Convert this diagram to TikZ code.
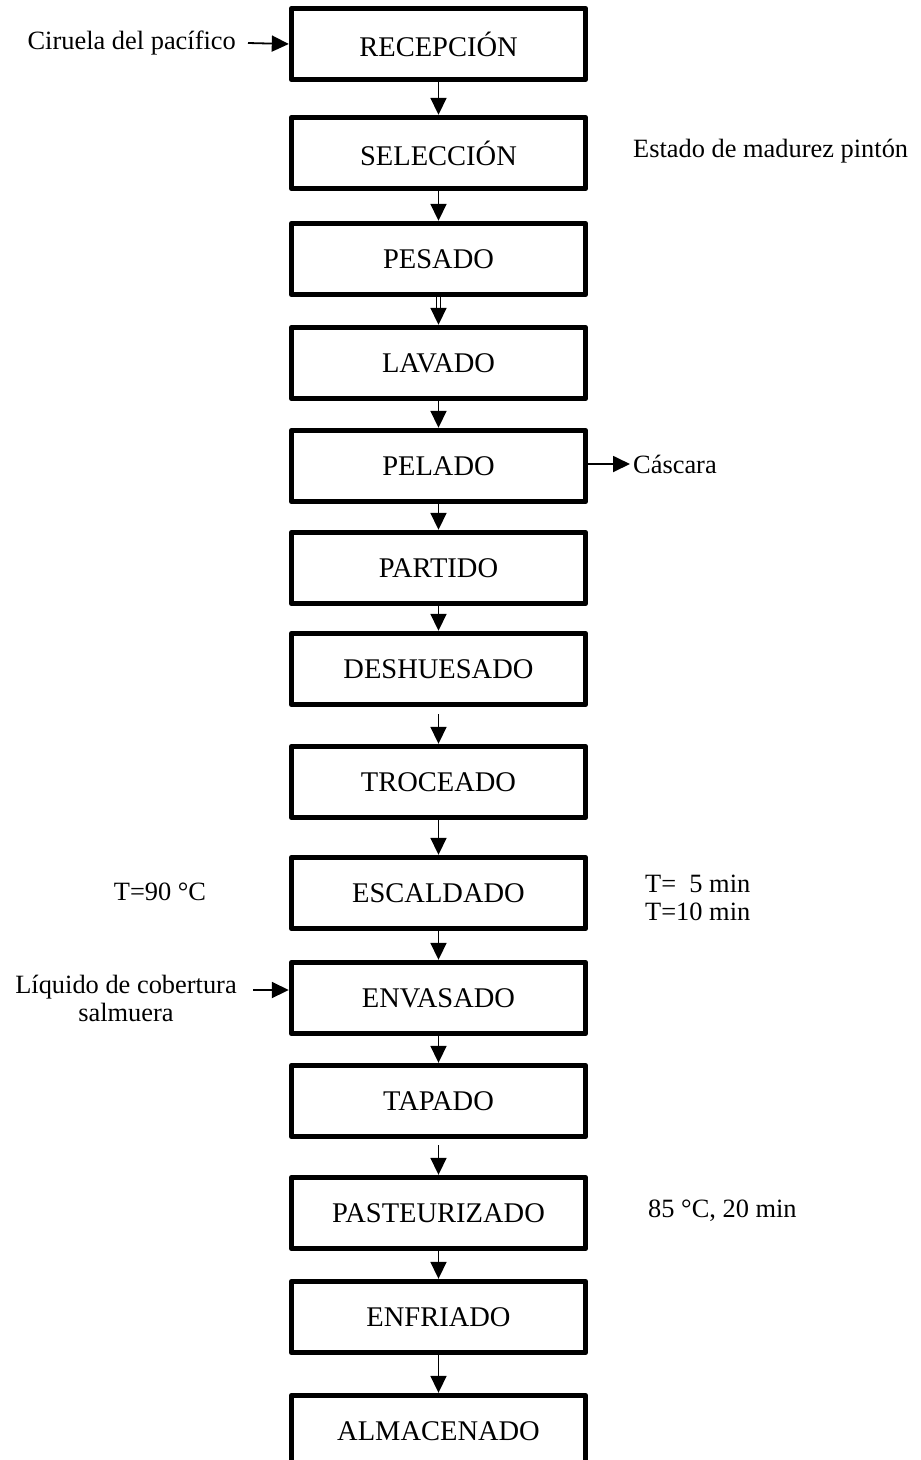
\documentclass[tikz,border=0pt]{standalone}
\usepackage{fontspec}
\setmainfont{Liberation Serif}
\usetikzlibrary{arrows.meta,calc}
\tikzset{
  stepbox/.style={draw, line width=5.4pt, line join=round, minimum width=294pt, minimum height=71pt, inner sep=0pt, font=\fontsize{28.5}{33}\selectfont},
  side/.style={inner sep=0pt, font=\fontsize{26.4}{31}\selectfont},
  arr/.style={line width=1.8pt, -{Triangle[length=17pt,width=16pt]}},
}
\begin{document}
\begin{tikzpicture}[x=1pt,y=-1pt]
\useasboundingbox (0,0) rectangle (921,1460);
\node[stepbox] (rec) at (438.5,44) {RECEPCIÓN};
\node[stepbox] (sel) at (438.5,153) {SELECCIÓN};
\node[stepbox] (pes) at (438.5,259) {PESADO};
\node[stepbox] (lav) at (438.5,363) {LAVADO};
\node[stepbox] (pel) at (438.5,466) {PELADO};
\node[stepbox] (par) at (438.5,568) {PARTIDO};
\node[stepbox] (des) at (438.5,669) {DESHUESADO};
\node[stepbox] (tro) at (438.5,782) {TROCEADO};
\node[stepbox] (esc) at (438.5,893) {ESCALDADO};
\node[stepbox] (env) at (438.5,998) {ENVASADO};
\node[stepbox] (tap) at (438.5,1101) {TAPADO};
\node[stepbox] (pas) at (438.5,1213) {PASTEURIZADO};
\node[stepbox] (enf) at (438.5,1317) {ENFRIADO};
\node[stepbox] (alm) at (438.5,1431) {ALMACENADO};

\node[side, anchor=east] (cir) at (236,43) {Ciruela del pacífico};
\node[side, anchor=west] (est) at (633,151) {Estado de madurez pintón};
\node[side, anchor=west] (cas) at (633,464) {Cáscara};
\node[side] (t90) at (160,892) {T=90 °C};
\node[side, anchor=west, align=left] (tmin) at (645,898) {T=\ \ 5 min\\[-3pt]T=10 min};
\node[side, align=center] (liq) at (126,998) {Líquido de cobertura\\[-3pt]salmuera};
\node[side, anchor=west] (p85) at (648,1211) {85 °C, 20 min};

\coordinate (cirE) at (248,43);
\draw[arr] (cirE) -- (rec.west);
\coordinate (liqE) at (253,990);
\draw[arr] (liqE) -- (liqE -| env.west);
\coordinate (casW) at (630,464);
\draw[arr] (pel.east |- casW) -- (casW);

\draw[arr] (rec) -- (sel);
\draw[arr] (sel) -- (pes);
\draw[line width=1.1pt] ([xshift=-1.6pt]pes.south) -- ++(0,17);
\draw[line width=1.1pt] ([xshift=1.6pt]pes.south) -- ++(0,17);
\draw[arr] ([yshift=-16pt]pes.south) -- (lav.north);
\draw[arr] (lav) -- (pel);
\draw[arr] (pel) -- (par);
\draw[arr] (par) -- (des);
\draw[arr] ([yshift=-7pt]des.south) -- (tro.north);
\draw[arr] (tro) -- (esc);
\draw[arr] (esc) -- (env);
\draw[arr] (env) -- (tap);
\draw[arr] ([yshift=-6pt]tap.south) -- (pas.north);
\draw[arr] (pas) -- (enf);
\draw[arr] (enf) -- (alm);
\end{tikzpicture}
\end{document}
